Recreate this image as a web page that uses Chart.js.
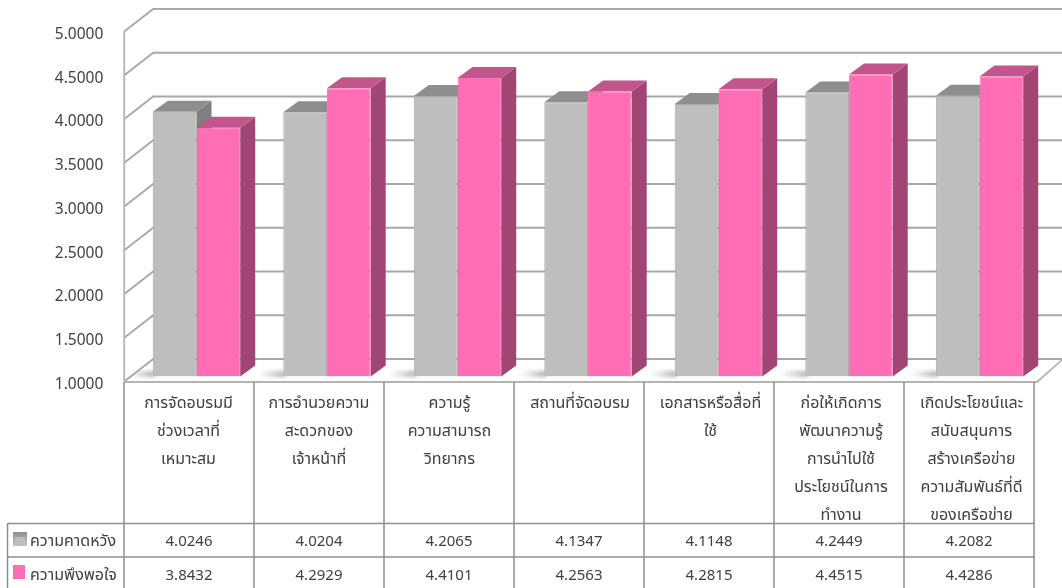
<!DOCTYPE html>
<html>
<head>
<meta charset="utf-8">
<script src="https://cdn.jsdelivr.net/npm/chart.js@4"></script>
<style>
html, body { margin: 0; padding: 0; background: #fff; }
#wrap { width: 1062px; height: 588px; position: relative; overflow: hidden; }
</style>
</head>
<body>
<div id="wrap"><canvas id="satisfaction" width="1062" height="588"></canvas></div>
<script>
const categories = [
    ["การจัดอบรมมี", "ช่วงเวลาที่", "เหมาะสม"],
    ["การอำนวยความ", "สะดวกของ", "เจ้าหน้าที่"],
    ["ความรู้", "ความสามารถ", "วิทยากร"],
    ["สถานที่จัดอบรม"],
    ["เอกสารหรือสื่อที่", "ใช้"],
    ["ก่อให้เกิดการ", "พัฒนาความรู้", "การนำไปใช้", "ประโยชน์ในการ", "ทำงาน"],
    ["เกิดประโยชน์และ", "สนับสนุนการ", "สร้างเครือข่าย", "ความสัมพันธ์ที่ดี", "ของเครือข่าย"]
];
const expectLabel = "ความคาดหวัง";
const satisfyLabel = "ความพึงพอใจ";
const expectValues = [4.0246, 4.0204, 4.2065, 4.1347, 4.1148, 4.2449, 4.2082];
const satisfyValues = [3.8432, 4.2929, 4.4101, 4.2563, 4.2815, 4.4515, 4.4286];

const fontName = "'Noto Sans', 'Noto Sans Thai', Tahoma, sans-serif";
const textColor = "#404040";
const lineColor = "#8f8f8f";

// depth of the bars, and of the walls measured from the plane of the bars
const barDepth = { x: 15, y: -11 };
const wallFront = { x: -7, y: 5 };
const wallBack = { x: 22, y: -17.5 };

function face(ctx, points, color) {
    ctx.fillStyle = color;
    ctx.beginPath();
    points.forEach((p, i) => i ? ctx.lineTo(p[0], p[1]) : ctx.moveTo(p[0], p[1]));
    ctx.closePath();
    ctx.fill();
}

const depthPlugin = {
    id: "depth3d",
    beforeDatasetsDraw(chart) {
        const ctx = chart.ctx;
        const y = chart.scales.y;
        const left = chart.chartArea.left;
        const floorY = y.getPixelForValue(1);
        const floorRight = 1034;
        ctx.save();

        // walls and grid lines
        ctx.strokeStyle = "#a8a8a8";
        ctx.lineWidth = 1.8;
        y.ticks.forEach(t => {
            const p = y.getPixelForValue(t.value);
            ctx.beginPath();
            ctx.moveTo(left + wallFront.x, p + wallFront.y);
            ctx.lineTo(left + wallBack.x, p + wallBack.y);
            ctx.lineTo(1070, p + wallBack.y);
            ctx.stroke();
        });
        ctx.strokeStyle = "#b4b4b4";
        ctx.beginPath();
        ctx.moveTo(left + wallFront.x, y.getPixelForValue(5) + wallFront.y);
        ctx.lineTo(left + wallFront.x, floorY + wallFront.y);
        ctx.moveTo(left + wallFront.x, floorY + wallFront.y + 0.5);
        ctx.lineTo(floorRight + 3, floorY + wallFront.y + 0.5);
        ctx.lineTo(floorRight + 29, floorY + wallBack.y);
        ctx.stroke();

        // soft shadow on the floor left of each bar pair
        ctx.save();
        ctx.filter = "blur(2px)";
        chart.getDatasetMeta(0).data.forEach(bar => {
            const l = bar.x - bar.width / 2;
            const g = ctx.createLinearGradient(l - 26, 0, l, 0);
            g.addColorStop(0, "rgba(190,190,190,0)");
            g.addColorStop(1, "rgba(150,150,150,0.9)");
            ctx.fillStyle = g;
            ctx.fillRect(l - 26, floorY - 5, 28, 5);
        });
        ctx.restore();

        // side and top of each bar, the fronts are drawn by the library
        const shades = [
            { top: "#8e8e8e", side: "#808080" },
            { top: "#c2558b", side: "#a14575" }
        ];
        chart.data.datasets.forEach((ds, d) => {
            chart.getDatasetMeta(d).data.forEach(bar => {
                const l = bar.x - bar.width / 2;
                const r = bar.x + bar.width / 2;
                face(ctx, [
                    [r, bar.y], [r + barDepth.x, bar.y + barDepth.y],
                    [r + barDepth.x, bar.base + barDepth.y], [r, bar.base]
                ], shades[d].side);
                face(ctx, [
                    [l, bar.y], [l + barDepth.x, bar.y + barDepth.y],
                    [r + barDepth.x, bar.y + barDepth.y], [r, bar.y]
                ], shades[d].top);
            });
        });
        ctx.restore();
    },
    afterDraw(chart) {
        const ctx = chart.ctx;
        const rowTop = 523.5, rowMid = 557, rowEnd = 590;
        const tableLeft = 7.5;
        const firstCol = 124;
        const colWidth = 130;
        const lastCol = firstCol + colWidth * categories.length;

        ctx.save();
        ctx.strokeStyle = lineColor;
        ctx.lineWidth = 1.5;
        ctx.beginPath();
        for (let i = 0; i <= categories.length; i++) {
            const cx = firstCol + colWidth * i;
            ctx.moveTo(cx, 382);
            ctx.lineTo(cx, rowEnd);
        }
        ctx.moveTo(tableLeft, rowTop);
        ctx.lineTo(tableLeft, rowEnd);
        [rowTop, rowMid].forEach(ry => {
            ctx.moveTo(tableLeft, ry);
            ctx.lineTo(lastCol + 1, ry);
        });
        ctx.stroke();

        ctx.font = "15px " + fontName;
        ctx.fillStyle = textColor;
        ctx.textBaseline = "middle";
        ctx.textAlign = "center";
        expectValues.forEach((v, i) => {
            ctx.fillText(v.toFixed(4), firstCol + colWidth * (i + 0.5), 541.5);
        });
        satisfyValues.forEach((v, i) => {
            ctx.fillText(v.toFixed(4), firstCol + colWidth * (i + 0.5), 576);
        });

        ctx.font = "16px " + fontName;
        ctx.textAlign = "left";
        ctx.fillText(expectLabel, 30, 541);
        ctx.fillText(satisfyLabel, 30, 575);

        // legend keys
        const grad = ctx.createLinearGradient(0, 532, 0, 546);
        grad.addColorStop(0, "#8e8e8e");
        grad.addColorStop(1, "#c4c4c4");
        ctx.fillStyle = grad;
        ctx.fillRect(13, 532, 14, 14);
        ctx.fillStyle = "#bebebe";
        ctx.fillRect(15, 537, 10, 8);
        ctx.fillStyle = "#ff6eb4";
        ctx.fillRect(13, 565, 12, 14);
        ctx.restore();
    }
};

new Chart(document.getElementById("satisfaction"), {
    type: "bar",
    data: {
        labels: categories,
        datasets: [
            { label: expectLabel, data: expectValues, base: 1, backgroundColor: "#bebebe", borderColor: "#a8a8a8", borderWidth: 1 },
            { label: satisfyLabel, data: satisfyValues, base: 1, backgroundColor: "#ff6eb4", borderColor: "#ff78ba", borderWidth: 1 }
        ]
    },
    options: {
        responsive: false,
        animation: false,
        layout: { padding: { top: 26.5, right: 17.25, bottom: 0, left: 0 } },
        plugins: { legend: { display: false }, tooltip: { enabled: false } },
        datasets: { bar: { categoryPercentage: 0.67, barPercentage: 1 } },
        scales: {
            x: {
                grid: { display: false, drawTicks: false },
                border: { display: false },
                afterFit: s => { s.height = 211.5; s.paddingTop = 0; s.paddingBottom = 0; s.paddingLeft = 0; s.paddingRight = 0; },
                ticks: {
                    autoSkip: false, maxRotation: 0, minRotation: 0,
                    padding: 13, labelOffset: -8,
                    color: textColor,
                    font: { family: fontName, size: 16, lineHeight: 1.75 }
                }
            },
            y: {
                min: 1, max: 5,
                grid: { display: false, drawTicks: false },
                border: { display: false },
                afterFit: s => { s.width = 131.25; s.paddingTop = 0; s.paddingBottom = 0; },
                ticks: {
                    stepSize: 0.5, padding: 28, labelOffset: 8,
                    color: textColor,
                    font: { family: fontName, size: 15.5 },
                    callback: v => v.toFixed(4)
                }
            }
        }
    },
    plugins: [depthPlugin]
});
</script>
</body>
</html>
